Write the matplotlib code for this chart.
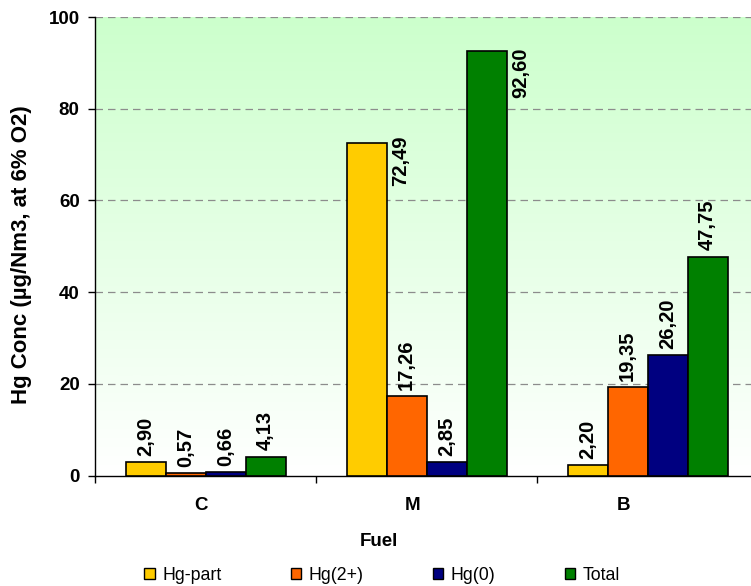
import numpy as np
import matplotlib
matplotlib.use("Agg")
import matplotlib.pyplot as plt
from matplotlib.patches import Patch
from matplotlib.colors import LinearSegmentedColormap

# ---- data ----
fuels = ["C", "M", "B"]
series_names = ["Hg-part", "Hg(2+)", "Hg(0)", "Total"]
hg_part = [2.90, 72.49, 2.20]
hg_2plus = [0.57, 17.26, 19.35]
hg_0 = [0.66, 2.85, 26.20]
total = [4.13, 92.60, 47.75]
y_ticks = [0, 20, 40, 60, 80, 100]

series = [hg_part, hg_2plus, hg_0, total]
colors = ["#FFCC00", "#FF6600", "#000080", "#008000"]

plt.rcParams["font.family"] = ["Liberation Sans", "DejaVu Sans"]

W, H = 751, 586
fig = plt.figure(figsize=(W / 100, H / 100), dpi=100)
fig.patch.set_facecolor("white")

# plot area in pixels (extends slightly past right edge)
left_px, right_px, top_px, bottom_px = 95, 758, 17, 475.5
ax = fig.add_axes([left_px / W, (H - bottom_px) / H,
                   (right_px - left_px) / W, (bottom_px - top_px) / H])

ax.set_xlim(-0.5, 2.5)
ax.set_ylim(0, 100)

# vertical gradient background
grad = np.linspace(0, 1, 256).reshape(-1, 1)
cmap = LinearSegmentedColormap.from_list("bg", ["#FFFFFF", "#CCFFCC"])
ax.imshow(grad, extent=(-0.5, 2.5, 0, 100), origin="lower", aspect="auto",
          cmap=cmap, zorder=0, interpolation="bicubic")

# grid
for yv in y_ticks[1:]:
    ax.axhline(yv, color="#8C8C8C", lw=0.9, ls=(0, (6, 4)), zorder=1)

bar_w = 40 / 221
x = np.arange(len(fuels))

# labels that sit beside the bar instead of above it: (series, fuel) -> upward shift in px
beside = {(0, 1): 8, (3, 1): 3}
lbl_size = 14.5

for si, (vals, col) in enumerate(zip(series, colors)):
    xs = x + (si - 1.5) * bar_w
    ax.bar(xs, vals, width=bar_w, color=col, edgecolor="black", linewidth=1.2,
           zorder=3)
    for fi, (xc, v) in enumerate(zip(xs, vals)):
        txt = f"{v:.2f}".replace(".", ",")
        if (si, fi) in beside:
            ax.annotate(txt, xy=(xc + bar_w / 2, v),
                        xytext=(10, beside[(si, fi)] * 0.72),
                        textcoords="offset points", rotation=90,
                        ha="center", va="top", fontsize=lbl_size,
                        fontweight="bold", zorder=4)
        else:
            ax.annotate(txt, xy=(xc, v), xytext=(0, 4.5),
                        textcoords="offset points", rotation=90,
                        ha="center", va="bottom", fontsize=lbl_size,
                        fontweight="bold", zorder=4)

# axes styling
for s in ["top", "right"]:
    ax.spines[s].set_visible(False)
ax.spines["left"].set_color("black")
ax.spines["bottom"].set_color("black")
ax.spines["left"].set_linewidth(1.0)
ax.spines["bottom"].set_linewidth(1.0)

ax.set_yticks(y_ticks)
ax.set_yticklabels([str(v) for v in y_ticks], fontsize=13.5, fontweight="bold")
ax.tick_params(axis="y", length=5, width=1, pad=6, direction="out")

ax.set_xticks([-0.5, 0.5, 1.5, 2.5])
ax.set_xticklabels([])
ax.tick_params(axis="x", length=5, width=1, direction="out")

# category labels
cat_w = 211.6 / (right_px - left_px)
for i, name in enumerate(fuels):
    ax.text((i + 0.5) * cat_w, -29.5 / (bottom_px - top_px), name,
            transform=ax.transAxes, ha="center", va="center",
            fontsize=13.5, fontweight="bold")

fig.text(379 / W, 1 - 542 / H, "Fuel", ha="center", va="center",
         fontsize=13.5, fontweight="bold")
fig.text(22 / W, 1 - 255 / H, "Hg Conc (µg/Nm3, at 6% O2)", rotation=90,
         ha="center", va="center", fontsize=16, fontweight="bold")

handles = [Patch(facecolor=c, edgecolor="black", linewidth=1.0) for c in colors]
fig.legend(handles, series_names, loc="center", ncol=4,
           bbox_to_anchor=(382 / W, 1 - 575 / H), frameon=False,
           fontsize=12.8, handlelength=0.6, handleheight=0.6,
           handletextpad=0.4, columnspacing=3.9, borderpad=0)

fig.savefig("out.png", dpi=100, facecolor="white")
